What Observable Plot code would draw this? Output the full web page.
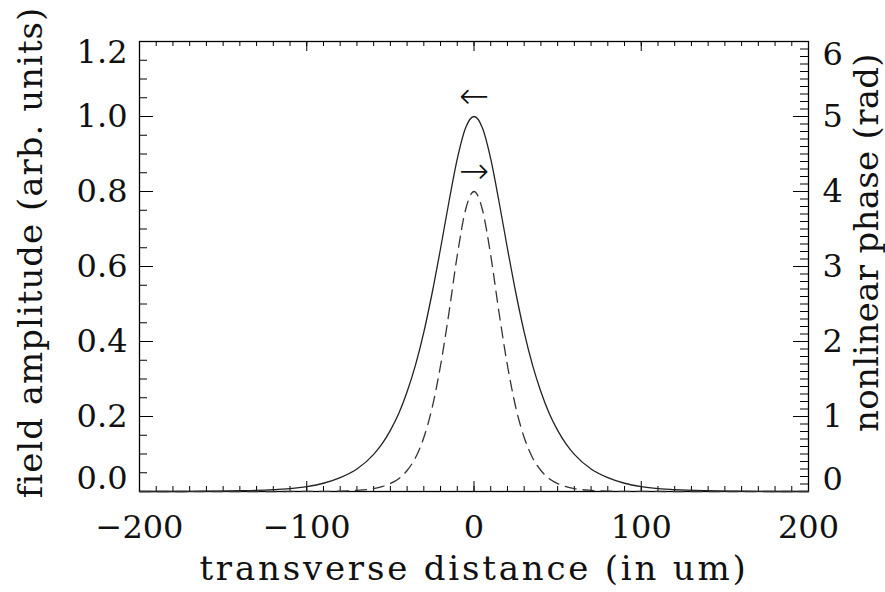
<!DOCTYPE html>
<html><head><meta charset="utf-8">
<script src="https://cdn.jsdelivr.net/npm/d3@7"></script>
<script src="https://cdn.jsdelivr.net/npm/@observablehq/plot@0.6"></script>
<style>body{margin:0;background:#fff} svg{display:block}</style>
</head><body><div id="chart"></div>
<script>
// transverse distance (um)
const distance = [-200,-180,-160,-140,-120,-100,-90,-80,-70,-60,-55,-50,-45,-40,-35,-30,-25,-20,-15,-10,-5,0,5,10,15,20,25,30,35,40,45,50,55,60,70,80,90,100,120,140,160,180,200];
// field amplitude (arb. units), solid curve
const amplitude = [0.000,0.000,0.001,0.002,0.005,0.013,0.022,0.037,0.060,0.099,0.127,0.163,0.208,0.266,0.337,0.425,0.530,0.648,0.772,0.887,0.970,1.000,0.970,0.887,0.772,0.648,0.530,0.425,0.337,0.266,0.208,0.163,0.127,0.099,0.060,0.037,0.022,0.013,0.005,0.002,0.001,0.000,0.000];
// nonlinear phase (rad), dashed curve
const phaseRad = [0,0,0,0,0,0.001,0.002,0.005,0.015,0.039,0.065,0.106,0.17,0.28,0.45,0.72,1.12,1.68,2.38,3.15,3.76,4.00,3.76,3.15,2.38,1.68,1.12,0.72,0.45,0.28,0.17,0.106,0.065,0.039,0.015,0.005,0.002,0.001,0,0,0,0,0];

const xTickLabels = [-200,-100,0,100,200];
const leftTickLabels = [0.0,0.2,0.4,0.6,0.8,1.0,1.2];
const rightTickLabels = [0,1,2,3,4,5,6];
const xLabel = "transverse distance (in um)";
const yLeftLabel = "field amplitude (arb. units)";
const yRightLabel = "nonlinear phase (rad)";
const arrowLeft = {x: 0, y: 1.053, text: "←"};
const arrowRight = {x: 0, y: 0.854, text: "→"};

const RAD_TO_UNITS = 1.2 / 6;
const W = 885, H = 592, mL = 139, mR = 77, mT = 41, mB = 101;
const pw = W - mL - mR, ph = H - mT - mB;
const font = "'DejaVu Serif', serif";
const ink = "#111";

const solid = distance.map((x, i) => ({x, y: amplitude[i]}));
const dashed = distance.map((x, i) => ({x, y: phaseRad[i] * RAD_TO_UNITS}));

const xMinor = d3.range(-200, 201, 10);
const xMajor = d3.range(-200, 201, 100);
const yMinor = d3.range(0, 24.5, 1).map(v => v * 0.05);
const yMajor = d3.range(0, 6.5, 1).map(v => v * 0.2);
const rMinor = d3.range(0, 60.5, 1).map(v => v * 0.1 * RAD_TO_UNITS);
const rMajor = rightTickLabels.map(v => v * RAD_TO_UNITS);

const fmtX = d => d < 0 ? "\u2212" + Math.abs(d) : String(d);

const plot = Plot.plot({
  width: W, height: H,
  marginLeft: mL, marginRight: mR, marginTop: mT, marginBottom: mB,
  x: {domain: [-200, 200], axis: null},
  y: {domain: [0, 1.2], axis: null},
  style: {fontFamily: font, background: "#fff", color: ink},
  marks: [
    // bottom ticks
    Plot.tickX(xMinor, {x: d => d, insetTop: ph - 5, stroke: "#000"}),
    Plot.tickX(xMajor, {x: d => d, insetTop: ph - 10, stroke: "#000"}),
    // top ticks
    Plot.tickX(xMinor, {x: d => d, insetBottom: ph - 5, stroke: "#000"}),
    Plot.tickX(xMajor, {x: d => d, insetBottom: ph - 10, stroke: "#000"}),
    // left ticks
    Plot.tickY(yMinor, {y: d => d, insetRight: pw - 8, stroke: "#000"}),
    Plot.tickY(yMajor, {y: d => d, insetRight: pw - 14, stroke: "#000"}),
    // right ticks
    Plot.tickY(rMinor, {y: d => d, insetLeft: pw - 8, stroke: "#000"}),
    Plot.tickY(rMajor, {y: d => d, insetLeft: pw - 15, stroke: "#000"}),
    Plot.frame({stroke: "#000", strokeWidth: 1.3}),
    // curves
    Plot.line(solid, {x: "x", y: "y", curve: "monotone-x", stroke: "#222", strokeWidth: 1.3}),
    Plot.line(dashed, {x: "x", y: "y", curve: "monotone-x", stroke: "#333", strokeWidth: 1.3, strokeDasharray: "11,7"}),
    // arrows
    Plot.text([arrowLeft, arrowRight], {x: "x", y: "y", text: "text", fontSize: 36, fill: ink, fontFamily: "'DejaVu Sans', sans-serif", fontWeight: 300}),
    // x tick labels
    Plot.text(xTickLabels, {x: d => d, frameAnchor: "bottom", dy: 36, lineAnchor: "middle", text: fmtX, fontSize: 32, fill: ink}),
    // left tick labels
    Plot.text(leftTickLabels.slice(1, -1), {y: d => d, frameAnchor: "left", dx: -12, textAnchor: "end", lineAnchor: "middle", text: d => d.toFixed(1), fontSize: 32, fill: ink}),
    Plot.text(leftTickLabels.slice(-1), {y: d => d, frameAnchor: "left", dx: -12, dy: 11, textAnchor: "end", lineAnchor: "middle", text: d => d.toFixed(1), fontSize: 32, fill: ink}),
    Plot.text(leftTickLabels.slice(0, 1), {y: d => d, frameAnchor: "left", dx: -12, dy: -13, textAnchor: "end", lineAnchor: "middle", text: d => d.toFixed(1), fontSize: 32, fill: ink}),
    // right tick labels
    Plot.text(rightTickLabels.slice(1, -1), {y: d => d * RAD_TO_UNITS, frameAnchor: "right", dx: 14, textAnchor: "start", lineAnchor: "middle", text: d => String(d), fontSize: 32, fill: ink}),
    Plot.text(rightTickLabels.slice(-1), {y: d => d * RAD_TO_UNITS, frameAnchor: "right", dx: 14, dy: 13, textAnchor: "start", lineAnchor: "middle", text: d => String(d), fontSize: 32, fill: ink}),
    Plot.text(rightTickLabels.slice(0, 1), {y: d => d * RAD_TO_UNITS, frameAnchor: "right", dx: 14, dy: -12, textAnchor: "start", lineAnchor: "middle", text: d => String(d), fontSize: 32, fill: ink}),
    // axis titles
    Plot.text([xLabel], {frameAnchor: "bottom", dy: 78, textAnchor: "middle", lineAnchor: "middle", text: d => d, fontSize: 34, fill: ink}),
    Plot.text([yLeftLabel], {frameAnchor: "left", dx: -108, dy: -14, rotate: -90, textAnchor: "middle", lineAnchor: "middle", text: d => d, fontSize: 34, fill: ink}),
    Plot.text([yRightLabel], {frameAnchor: "right", dx: 59, dy: -24, rotate: -90, textAnchor: "middle", lineAnchor: "middle", text: d => d, fontSize: 34, fill: ink})
  ]
});
document.getElementById("chart").appendChild(plot);
const spacing = {[xLabel]: "2.8px", [yLeftLabel]: "1px", [yRightLabel]: "0.3px"};
d3.select(plot).selectAll("text").each(function() {
  const s = spacing[this.textContent];
  if (s) this.style.letterSpacing = s;
});
</script>
</body></html>
